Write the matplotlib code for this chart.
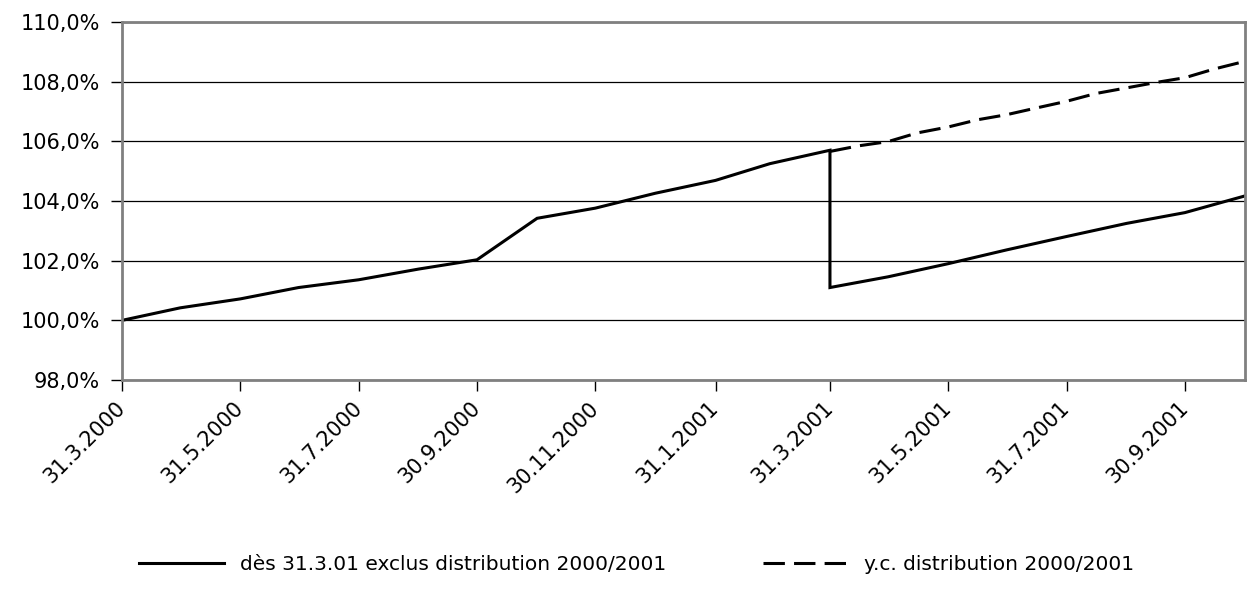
import pandas as pd
import matplotlib
matplotlib.use("Agg")
import matplotlib.pyplot as plt
from matplotlib.ticker import FuncFormatter

# solid series: index without 2000/2001 distribution from 31.3.01 (drop on 31.3.2001)
solid_dates = ["2000-03-31", "2000-04-30", "2000-05-31", "2000-06-30", "2000-07-31",
               "2000-08-31", "2000-09-30", "2000-10-31", "2000-11-30", "2000-12-31",
               "2001-01-31", "2001-02-28", "2001-03-31", "2001-03-31", "2001-04-30",
               "2001-05-31", "2001-06-30", "2001-07-31", "2001-08-31", "2001-09-30",
               "2001-10-31"]
solid_vals = [100.0, 100.42, 100.72, 101.1, 101.36, 101.72, 102.03, 103.42, 103.76,
              104.26, 104.69, 105.25, 105.7, 101.1, 101.46, 101.9, 102.36, 102.81,
              103.25, 103.61, 104.17]

# dashed series: including distribution
dashed_dates = ["2001-03-31", "2001-04-15", "2001-04-30", "2001-05-15", "2001-05-31",
                "2001-06-15", "2001-06-30", "2001-07-15", "2001-07-31", "2001-08-15",
                "2001-08-31", "2001-09-15", "2001-09-30", "2001-10-15", "2001-10-31"]
dashed_vals = [105.66, 105.85, 105.99, 106.28, 106.48, 106.72, 106.89, 107.11, 107.34,
               107.60, 107.79, 107.97, 108.13, 108.42, 108.68]

tick_dates = ["2000-03-31", "2000-05-31", "2000-07-31", "2000-09-30", "2000-11-30",
              "2001-01-31", "2001-03-31", "2001-05-31", "2001-07-31", "2001-09-30"]
y_ticks = [98, 100, 102, 104, 106, 108, 110]

label_solid = "dès 31.3.01 exclus distribution 2000/2001"
label_dashed = "y.c. distribution 2000/2001"

plt.rcParams['font.family'] = ['DejaVu Sans']

fig = plt.figure(figsize=(12.48, 5.92), dpi=100)
ax = fig.add_axes([0.0978, 0.358, 0.8998, 0.605])

ax.plot(pd.to_datetime(solid_dates), solid_vals, color="black", lw=2.2,
        label=label_solid, solid_joinstyle="miter")
ax.plot(pd.to_datetime(dashed_dates), dashed_vals, color="black", lw=2.2,
        dashes=(7, 3), label=label_dashed)

ax.set_xlim(pd.Timestamp("2000-03-31"), pd.Timestamp("2001-10-31"))
ax.set_ylim(98, 110)
ax.set_yticks(y_ticks)
ax.yaxis.set_major_formatter(FuncFormatter(lambda v, p: f"{v:.1f}%".replace(".", ",")))

td = pd.to_datetime(tick_dates)
ax.set_xticks(td)
ax.set_xticklabels([f"{d.day}.{d.month}.{d.year}" for d in td], rotation=45,
                   ha="right", va="center", rotation_mode="anchor")

ax.grid(axis="y", color="black", lw=0.9)
ax.set_axisbelow(True)
for s in ax.spines.values():
    s.set_color("#808080")
    s.set_linewidth(2)
ax.tick_params(axis="both", direction="out", length=8, width=1, color="black",
               labelsize=15)
ax.tick_params(axis="y", pad=8)
ax.tick_params(axis="x", pad=10)

fig.legend(loc="lower center", bbox_to_anchor=(0.51, 0.0), ncol=2, frameon=False,
           fontsize=14.5, handlelength=4.2, columnspacing=4.8)

fig.savefig("out.png", dpi=100)
